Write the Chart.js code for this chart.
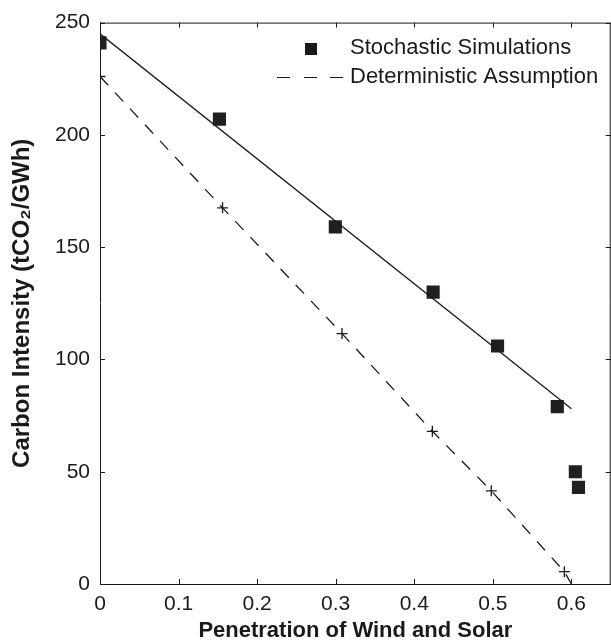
<!DOCTYPE html>
<html>
<head>
<meta charset="utf-8">
<script src="https://cdn.jsdelivr.net/npm/chart.js@4.4.1/dist/chart.umd.min.js"></script>
<style>
  html, body { margin: 0; padding: 0; overflow: hidden; background: #fff; }
  #wrap { width: 620px; height: 644px; }
</style>
</head>
<body>
<div id="wrap"><canvas id="chart" width="620" height="644"></canvas></div>
<script>
// Data
const stochX = [0, 0.152, 0.2995, 0.424, 0.506, 0.582, 0.605, 0.609];
const stochY = [241, 207, 159, 130, 106, 79, 50, 43];

const fitX = [0, 0.6];
const fitY = [245, 78];

const detX = [0, 0.156, 0.308, 0.423, 0.498, 0.591, 0.6];
const detY = [226, 167.5, 111.5, 68, 41.5, 5.5, 0];
const detMarker = [1, 1, 1, 1, 1, 1, 0];

const xTicks = [0, 0.1, 0.2, 0.3, 0.4, 0.5, 0.6];
const yTicks = [0, 50, 100, 150, 200, 250];

const legendLabels = ['Stochastic Simulations', 'Deterministic Assumption'];

const FONT = "'Liberation Sans', Arial, Helvetica, sans-serif";
const INK = '#1a1a1a';

function toPoints(xs, ys) {
    return xs.map((x, i) => ({ x: x, y: ys[i] }));
}

// Inside tick marks on all four sides plus the top/right frame
const frameTicks = {
    id: 'frameTicks',
    afterDraw(chart) {
        const { ctx, chartArea: a, scales } = chart;
        const len = 5;
        ctx.save();
        ctx.strokeStyle = INK;
        ctx.lineWidth = 1;
        ctx.beginPath();
        ctx.moveTo(a.left, a.top + 0.5);
        ctx.lineTo(a.right, a.top + 0.5);
        ctx.moveTo(a.right - 0.5, a.top);
        ctx.lineTo(a.right - 0.5, a.bottom);
        xTicks.forEach(v => {
            const px = Math.round(scales.x.getPixelForValue(v)) + 0.5;
            ctx.moveTo(px, a.bottom);
            ctx.lineTo(px, a.bottom - len);
            ctx.moveTo(px, a.top);
            ctx.lineTo(px, a.top + len);
        });
        yTicks.forEach(v => {
            const py = Math.round(scales.y.getPixelForValue(v)) + 0.5;
            ctx.moveTo(a.left, py);
            ctx.lineTo(a.left + len, py);
            ctx.moveTo(a.right, py);
            ctx.lineTo(a.right - len, py);
        });
        ctx.stroke();
        ctx.restore();
    }
};

// Legend drawn in the top right corner, no box
const plotLegend = {
    id: 'plotLegend',
    afterDraw(chart) {
        const ctx = chart.ctx;
        ctx.save();
        ctx.fillStyle = INK;
        ctx.fillRect(305, 43, 12, 12);
        ctx.strokeStyle = INK;
        ctx.lineWidth = 1;
        ctx.beginPath();
        [[277, 290], [304, 317], [330, 343]].forEach(seg => {
            ctx.moveTo(seg[0], 77.5);
            ctx.lineTo(seg[1], 77.5);
        });
        ctx.stroke();
        ctx.font = '22px ' + FONT;
        ctx.textBaseline = 'middle';
        ctx.textAlign = 'left';
        ctx.fillText(legendLabels[0], 350, 48);
        ctx.fillText(legendLabels[1], 350, 77);
        ctx.restore();
    }
};

const ctx = document.getElementById('chart').getContext('2d');
new Chart(ctx, {
    type: 'scatter',
    data: {
        datasets: [
            {
                label: 'Fit',
                data: toPoints(fitX, fitY),
                showLine: true,
                borderColor: INK,
                borderWidth: 1.3,
                pointRadius: 0,
                fill: false
            },
            {
                label: legendLabels[1],
                data: toPoints(detX, detY),
                showLine: true,
                borderColor: INK,
                borderWidth: 1.3,
                borderDash: [12, 10],
                pointStyle: 'cross',
                pointRadius: detMarker.map(m => m ? 5.5 : 0),
                pointBorderWidth: 1.3,
                pointBorderColor: INK,
                fill: false
            },
            {
                label: legendLabels[0],
                data: toPoints(stochX, stochY),
                showLine: false,
                pointStyle: 'rect',
                pointRadius: 9.3,
                pointBackgroundColor: '#231f20',
                pointBorderColor: '#231f20',
                pointBorderWidth: 0
            }
        ]
    },
    options: {
        responsive: false,
        animation: false,
        layout: { padding: { top: 15, right: 6.5, left: 0, bottom: 0 } },
        plugins: {
            legend: { display: false },
            tooltip: { enabled: false }
        },
        scales: {
            x: {
                type: 'linear',
                min: 0,
                max: 0.65,
                afterBuildTicks: s => { s.ticks = xTicks.map(v => ({ value: v })); },
                afterFit: s => { s.height = 60; },
                grid: { display: false, drawTicks: false },
                border: { display: true, color: INK, width: 1 },
                ticks: {
                    color: INK,
                    padding: 8,
                    maxRotation: 0,
                    font: { family: FONT, size: 21 },
                    callback: v => String(Math.round(v * 10) / 10)
                },
                title: {
                    display: true,
                    text: 'Penetration of Wind and Solar',
                    color: INK,
                    padding: { top: 0, bottom: 0 },
                    font: { family: FONT, size: 22, weight: 'bold' }
                }
            },
            y: {
                type: 'linear',
                min: 0,
                max: 250,
                afterBuildTicks: s => { s.ticks = yTicks.map(v => ({ value: v })); },
                afterFit: s => { s.width = 100; },
                grid: { display: false, drawTicks: false },
                border: { display: true, color: INK, width: 1 },
                ticks: {
                    color: INK,
                    padding: 10,
                    font: { family: FONT, size: 21 }
                },
                title: {
                    display: true,
                    text: 'Carbon Intensity (tCO\u2082/GWh)',
                    color: INK,
                    padding: { top: 8, bottom: 0 },
                    font: { family: FONT, size: 24, weight: 'bold' }
                }
            }
        }
    },
    plugins: [frameTicks, plotLegend]
});
</script>
</body>
</html>
